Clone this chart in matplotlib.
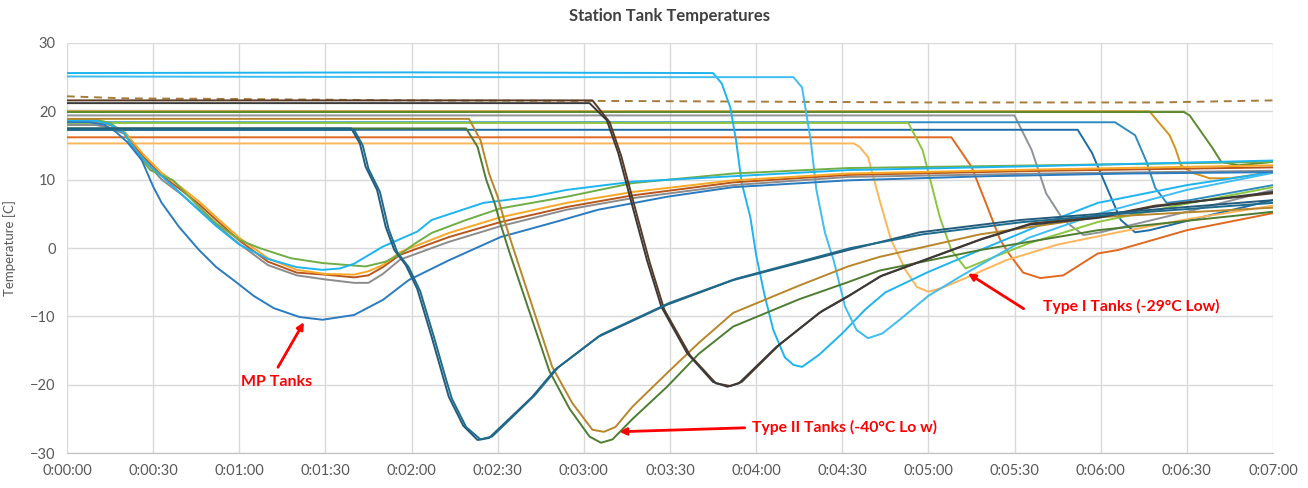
import matplotlib.pyplot as plt
from matplotlib.ticker import FuncFormatter, MultipleLocator

plt.rcParams['font.family'] = ['Lato', 'DejaVu Sans']

# time in seconds, temperature in C
# --- flat reference lines ---
dash_t = [0, 20, 60, 120, 200, 300, 380, 420]
dash_T = [22.2, 21.9, 21.8, 21.6, 21.5, 21.3, 21.3, 21.6]

khaki_t = [0, 200, 389]
khaki_T = [20.1, 20.0, 20.0]

# --- MP tanks ---
mp_blue_t = [0, 8, 13, 17, 21, 26, 30, 33, 39, 46, 52, 58, 65, 72, 81, 89, 100, 110, 119, 133, 151, 170, 185, 209, 232, 272, 320, 370, 420]
mp_blue_T = [18.4, 18.4, 18.0, 17.0, 15.5, 12.9, 9.0, 6.6, 3.1, -0.3, -2.8, -4.7, -7.0, -8.8, -10.1, -10.5, -9.8, -7.6, -4.7, -1.8, 1.6, 3.8, 5.6, 7.5, 8.9, 9.9, 10.5, 10.9, 11.1]

mp_green_t = [0, 10, 15, 20, 24, 29, 37, 46, 52, 60, 67, 78, 89, 104, 111, 116, 121, 127, 139, 151, 174, 197, 232, 272, 340, 420]
mp_green_T = [18.8, 18.8, 18.3, 16.8, 14.0, 11.4, 9.9, 6.0, 3.6, 1.2, 0.0, -1.5, -2.2, -2.7, -2.0, -0.9, 0.6, 2.2, 4.1, 5.8, 7.5, 9.5, 10.9, 11.7, 12.1, 12.6]

mp_lblue_t = [0, 10, 15, 20, 24, 29, 37, 46, 52, 60, 70, 80, 89, 95, 100, 110, 122, 127, 145, 162, 174, 197, 232, 272, 340, 420]
mp_lblue_T = [18.6, 18.6, 18.1, 16.8, 14.2, 12.0, 9.0, 5.5, 3.2, 0.5, -1.6, -2.8, -3.2, -3.0, -2.3, 0.2, 2.4, 4.1, 6.6, 7.5, 8.5, 9.7, 10.5, 11.4, 12.0, 12.8]

mp_orange_t = [0, 10, 15, 20, 27, 33, 40, 46, 52, 60, 70, 80, 90, 100, 105, 110, 116, 133, 151, 174, 197, 232, 272, 340, 420]
mp_orange_T = [18.6, 18.6, 18.1, 17.0, 13.5, 11.0, 8.8, 6.8, 4.5, 1.5, -1.5, -3.2, -3.8, -3.9, -3.4, -2.5, -0.6, 2.2, 4.5, 6.6, 8.2, 9.9, 10.9, 11.5, 12.1]

mp_brown_t = [0, 10, 15, 20, 27, 33, 40, 46, 52, 60, 70, 80, 90, 100, 105, 110, 116, 133, 151, 174, 197, 232, 272, 340, 420]
mp_brown_T = [18.5, 18.5, 18.0, 17.0, 13.2, 10.6, 8.4, 6.4, 4.1, 1.1, -2.0, -3.6, -3.9, -4.3, -4.0, -2.8, -1.0, 1.6, 3.8, 6.0, 7.7, 9.6, 10.7, 11.3, 11.8]

mp_gray_t = [0, 10, 15, 20, 27, 33, 40, 46, 52, 60, 70, 80, 90, 100, 105, 110, 116, 133, 151, 174, 197, 232, 272, 340, 420]
mp_gray_T = [18.0, 18.0, 17.6, 16.7, 12.8, 10.0, 7.8, 5.6, 3.4, 0.6, -2.5, -4.0, -4.6, -5.1, -5.1, -3.8, -1.7, 0.9, 3.2, 5.6, 7.3, 9.2, 10.4, 10.9, 11.3]

# --- Type II tanks ---
teal_a_t = [0, 99, 102, 104, 108, 111, 114, 118, 122, 127, 131, 133, 138, 143, 147, 151, 162, 170, 185, 209, 232, 272, 297, 332, 366, 420]
teal_a_T = [17.5, 17.5, 15.3, 11.9, 8.5, 3.1, -0.3, -2.5, -6.0, -13.0, -18.9, -21.8, -26.0, -28.1, -27.8, -26.2, -21.8, -17.8, -13.0, -8.3, -4.7, -0.3, 2.3, 4.1, 5.2, 7.0]
teal_b_t = [0, 100, 103, 105, 109, 112, 115, 119, 123, 128, 132, 134, 139, 144, 148, 152, 163, 171, 186, 210, 233, 273, 298, 333, 367, 420]
teal_b_T = [17.3, 17.3, 15.0, 11.6, 8.2, 2.8, -0.6, -2.8, -6.3, -13.3, -19.2, -22.0, -26.2, -28.0, -27.6, -26.0, -21.5, -17.5, -12.7, -8.0, -4.5, 0.0, 2.0, 3.8, 5.0, 6.6]

gold2_t = [0, 140, 144, 147, 150, 152, 155, 169, 176, 183, 187, 191, 197, 209, 220, 232, 255, 272, 283, 318, 359, 420]
gold2_T = [18.9, 18.9, 15.8, 10.9, 7.5, 4.5, 0.5, -17.4, -22.7, -26.6, -26.9, -26.2, -23.2, -18.3, -13.9, -9.5, -5.5, -2.7, -1.3, 2.0, 4.5, 5.9]

green2_t = [0, 139, 143, 146, 149, 151, 154, 168, 175, 182, 186, 190, 197, 209, 220, 232, 255, 272, 283, 318, 359, 420]
green2_T = [17.5, 17.5, 14.8, 10.0, 6.5, 3.5, -0.5, -18.0, -23.5, -27.6, -28.5, -28.0, -25.0, -20.3, -15.5, -11.5, -7.5, -5.0, -3.3, -0.3, 2.6, 5.3]

black_t = [0, 182, 188, 192, 197, 202, 207, 216, 225, 230, 234, 247, 262, 272, 283, 318, 335, 359, 378, 420]
black_T = [21.2, 21.2, 18.7, 13.9, 6.0, -1.8, -8.6, -15.4, -19.6, -20.3, -19.8, -14.5, -9.5, -7.1, -4.2, 1.2, 3.4, 4.4, 6.0, 8.2]

dbrown_t = [0, 183, 189, 193, 198, 203, 208, 217, 226, 231, 235, 248, 263, 273, 284, 319, 336, 360, 379, 420]
dbrown_T = [21.6, 21.6, 18.4, 13.5, 5.6, -2.2, -9.0, -15.7, -19.8, -20.2, -19.6, -14.2, -9.2, -6.8, -4.0, 1.4, 3.6, 4.6, 6.2, 8.0]

lblue1_t = [0, 120, 225, 228, 231, 233, 235, 238, 240, 243, 246, 250, 253, 256, 262, 270, 278, 285, 300, 318, 341, 359, 390, 420]
lblue1_T = [25.6, 25.7, 25.6, 24.1, 20.6, 15.8, 9.5, 4.5, -1.0, -7.0, -12.0, -16.0, -17.1, -17.4, -15.6, -12.5, -9.0, -6.5, -3.5, -0.3, 3.7, 6.6, 9.2, 11.1]

lblue2_t = [0, 150, 253, 256, 259, 261, 264, 267, 271, 275, 279, 284, 290, 300, 311, 325, 335, 359, 390, 420]
lblue2_T = [25.1, 25.0, 25.0, 23.5, 15.8, 8.5, 2.2, -1.8, -8.6, -12.0, -13.2, -12.5, -10.5, -7.0, -4.2, -0.8, 1.5, 5.0, 8.5, 11.0]

# --- Type I tanks ---
lorange_t = [0, 274, 276, 279, 283, 287, 292, 296, 300, 305, 314, 327, 345, 366, 390, 420]
lorange_T = [15.3, 15.3, 14.8, 13.3, 7.0, 1.2, -3.2, -5.7, -6.4, -5.8, -4.2, -1.8, 0.5, 2.3, 4.2, 6.2]

lgreen_t = [0, 293, 298, 304, 308, 313, 320, 335, 359, 390, 420]
lgreen_T = [18.3, 18.3, 14.3, 4.5, -0.3, -3.0, -1.8, 0.7, 3.8, 6.5, 8.9]

ored_t = [0, 308, 315, 320, 325, 328, 333, 339, 347, 359, 366, 390, 420]
ored_T = [16.2, 16.2, 11.9, 6.6, 1.2, -0.8, -3.6, -4.4, -4.0, -0.8, -0.3, 2.6, 5.1]

gray1_t = [0, 330, 336, 341, 347, 354, 360, 390, 420]
gray1_T = [19.4, 19.4, 14.3, 8.0, 4.1, 1.9, 2.3, 5.3, 8.5]

blue1_t = [0, 352, 357, 363, 367, 372, 377, 400, 420]
blue1_T = [17.3, 17.3, 13.9, 8.0, 4.1, 2.3, 2.6, 5.0, 7.0]

tblue1_t = [0, 365, 372, 376, 379, 383, 391, 420]
tblue1_T = [18.4, 18.4, 16.5, 12.6, 8.8, 6.6, 7.0, 9.2]

gold1_t = [0, 377, 381, 384, 386, 388, 392, 398, 405, 420]
gold1_T = [20.0, 20.0, 18.0, 16.5, 14.6, 12.1, 11.0, 10.2, 10.2, 11.1]

olive1_t = [0, 389, 391, 395, 399, 402, 408, 420]
olive1_T = [19.9, 19.9, 19.4, 17.0, 14.6, 12.6, 12.1, 12.6]

series = [
    (dash_t, dash_T, '#A67C3D', '--'),
    (khaki_t, khaki_T, '#C9CAAB', '-'),
    (gold1_t, gold1_T, '#D4921C', '-'),
    (olive1_t, olive1_T, '#5C8A2E', '-'),
    (gray1_t, gray1_T, '#8E9299', '-'),
    (tblue1_t, tblue1_T, '#2E8BC0', '-'),
    (blue1_t, blue1_T, '#1F6BA5', '-'),
    (ored_t, ored_T, '#E0691F', '-'),
    (lorange_t, lorange_T, '#FDB55A', '-'),
    (lgreen_t, lgreen_T, '#8CC63F', '-'),
    (lblue1_t, lblue1_T, '#1EB4F0', '-'),
    (lblue2_t, lblue2_T, '#3FBDF2', '-'),
    (mp_gray_t, mp_gray_T, '#8C8C8C', '-'),
    (mp_brown_t, mp_brown_T, '#B9561E', '-'),
    (mp_orange_t, mp_orange_T, '#F9A825', '-'),
    (mp_green_t, mp_green_T, '#70AD47', '-'),
    (mp_lblue_t, mp_lblue_T, '#1EB4F0', '-'),
    (mp_blue_t, mp_blue_T, '#2A7BC0', '-'),
    (gold2_t, gold2_T, '#B8862B', '-'),
    (green2_t, green2_T, '#4E7D32', '-'),
    (dbrown_t, dbrown_T, '#5A3A22', '-'),
    (black_t, black_T, '#3A3A3A', '-'),
    (teal_a_t, teal_a_T, '#245B7D', '-'),
    (teal_b_t, teal_b_T, '#1E6B8C', '-'),
]

fig = plt.figure(figsize=(13.08, 4.88), dpi=100)
ax = fig.add_axes([0.0512, 0.0717, 0.9220, 0.8402])

for t, T, c, ls in series:
    ax.plot(t, T, color=c, lw=1.4, ls=ls, dashes=(4, 3) if ls == '--' else (None, None))

ax.set_xlim(0, 420)
ax.set_ylim(-30, 30)
ax.xaxis.set_major_locator(MultipleLocator(30))
ax.yaxis.set_major_locator(MultipleLocator(10))
ax.xaxis.set_major_formatter(FuncFormatter(lambda v, p: '%d:%02d:%02d' % (v // 3600, (v % 3600) // 60, v % 60)))
ax.grid(True, color='#D9D9D9', lw=1)
ax.set_axisbelow(True)
for s in ax.spines.values():
    s.set_visible(False)
ax.spines['bottom'].set_visible(True)
ax.spines['bottom'].set_color('#BFBFBF')
ax.tick_params(length=0, labelsize=10.5, colors='#595959', pad=8)
ax.set_ylabel('Temperature [C]', fontsize=9.5, color='#595959', labelpad=10)
ax.set_title('Station Tank Temperatures', fontsize=12, fontweight='bold', color='#404040', pad=16)

red = '#FF0000'
ax.annotate('', xy=(83, -10.5), xytext=(73, -17.8),
            arrowprops=dict(arrowstyle='-|>', color=red, lw=2, mutation_scale=10))
ax.text(73, -19.6, 'MP Tanks', color=red, fontsize=11.5, fontweight='bold', ha='center', va='center')

ax.annotate('', xy=(191.4, -26.9), xytext=(237, -26.3),
            arrowprops=dict(arrowstyle='-|>', color=red, lw=2, mutation_scale=10))
ax.text(238.5, -26.3, 'Type II Tanks (-40°C Lo w)', color=red, fontsize=11.3, fontweight='bold', ha='left', va='center')

ax.annotate('', xy=(313, -3.5), xytext=(334, -9.1),
            arrowprops=dict(arrowstyle='-|>', color=red, lw=2, mutation_scale=10))
ax.text(340, -8.6, 'Type I Tanks (-29°C Low)', color=red, fontsize=11.3, fontweight='bold', ha='left', va='center')

fig.savefig('out.png', dpi=100)
